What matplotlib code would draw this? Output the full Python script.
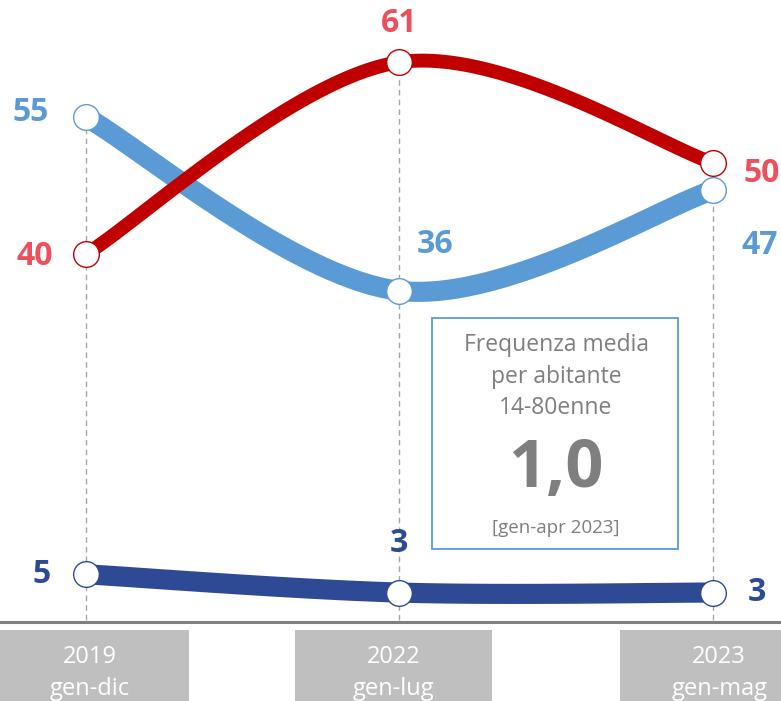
import numpy as np
import matplotlib.pyplot as plt
from matplotlib.patches import Rectangle

plt.rcParams['font.family'] = ['Open Sans', 'DejaVu Sans']

# Data
periods = ['2019\ngen-dic', '2022\ngen-lug', '2023\ngen-mag']
red_vals = [40, 61, 50]
lightblue_vals = [55, 36, 47]
darkblue_vals = [5, 3, 3]
box_lines = ['Frequenza media', 'per abitante', '14-80enne']
box_value = '1,0'
box_note = '[gen-apr 2023]'

# Styles
RED, RED_TXT = '#C00000', '#EE4F5C'
LBLUE = '#5B9BD5'
DBLUE = '#2E4A94'
GREY_TXT = '#7F7F7F'


# Excel-like smoothing: Catmull-Rom segments turned into cubic Bezier pieces
def smooth(xs, ys, n=60):
    p = np.column_stack([xs, ys]).astype(float)
    pad = np.vstack([p[0], p, p[-1]])
    out = []
    for i in range(len(p) - 1):
        p0, p1, p2, p3 = pad[i], pad[i + 1], pad[i + 2], pad[i + 3]
        c1 = p1 + (p2 - p0) / 6
        c2 = p2 - (p3 - p1) / 6
        t = np.linspace(0, 1, n)[:, None]
        seg = (1 - t) ** 3 * p1 + 3 * (1 - t) ** 2 * t * c1 + 3 * (1 - t) * t ** 2 * c2 + t ** 3 * p2
        out.append(seg if i == 0 else seg[1:])
    out = np.vstack(out)
    return out[:, 0], out[:, 1]


fig = plt.figure(figsize=(7.81, 7.01), dpi=100)
ax = fig.add_axes([0, 0, 1, 1])
ax.set_xlim(-0.274, 2.217)
ax.set_ylim(-8.86, 67.8)
ax.axis('off')

x = np.arange(len(periods))

# drop lines from the top point of each period down to the axis
tops = np.max([red_vals, lightblue_vals, darkblue_vals], axis=0)
for xi, t in zip(x, tops):
    ax.plot([xi, xi], [0, t], color='#A6A6A6', lw=1, ls=(0, (4, 3)), zorder=1)

# baseline
ax.axhline(-0.2, color='#808080', lw=2.2, zorder=1)

# series: lines first, then markers
series = [
    (lightblue_vals, LBLUE, 14.5, 2, 5),
    (red_vals, RED, 10, 3, 4),
    (darkblue_vals, DBLUE, 14.5, 3, 6),
]
for vals, col, lw, zl, zm in series:
    sx, sy = smooth(x, vals)
    ax.plot(sx, sy, color=col, lw=lw, solid_capstyle='butt', zorder=zl)
    ax.plot(x, vals, 'o', ms=18.5, mfc='white', mec=col, mew=1.0, zorder=zm)

# value labels (offsets in points)
offsets = {
    'red': [(-37, -1.5), (0, 28), (35, -8)],
    'lblue': [(-40, 3), (26, 33), (34, -40)],
    'dblue': [(-32, 0), (0, 35), (32, 0)],
}
for key, vals, tcol in [('red', red_vals, RED_TXT), ('lblue', lightblue_vals, LBLUE),
                        ('dblue', darkblue_vals, DBLUE)]:
    for xi, v, off in zip(x, vals, offsets[key]):
        ax.annotate(str(v), (xi, v), xytext=off, textcoords='offset points',
                    ha='center', va='center', fontsize=23, fontweight='bold',
                    color=tcol, zorder=7)

# category boxes under the axis
box_shift = [0.013, -0.019, 0.02]
for xi, lab, sh in zip(x, periods, box_shift):
    ax.add_patch(Rectangle((xi + sh - 0.315, -8.9), 0.63, 7.85, facecolor='#BFBFBF',
                           edgecolor='none', zorder=1))
    yr, per = lab.split('\n')
    ax.text(xi + sh, -4.0, yr, ha='center', va='center', fontsize=17, color='white')
    ax.text(xi + sh, -7.5, per, ha='center', va='center', fontsize=17, color='white')

# info box
fig.patches.append(Rectangle((432 / 781, 1 - 549 / 701), 246 / 781, 231 / 701,
                             transform=fig.transFigure, facecolor='white',
                             edgecolor=LBLUE, lw=1.3, zorder=8))
cx = 556 / 781
for txt, ypx in zip(box_lines, [345, 377, 408]):
    fig.text(cx, 1 - ypx / 701, txt, ha='center', va='center', fontsize=16.5,
             color=GREY_TXT, zorder=9)
fig.text(cx, 1 - 470 / 701, box_value, ha='center', va='center', fontsize=48,
         fontweight='bold', color=GREY_TXT, zorder=9)
fig.text(cx, 1 - 528 / 701, box_note, ha='center', va='center', fontsize=13.5,
         color=GREY_TXT, zorder=9)

fig.savefig('out.png', dpi=100)
